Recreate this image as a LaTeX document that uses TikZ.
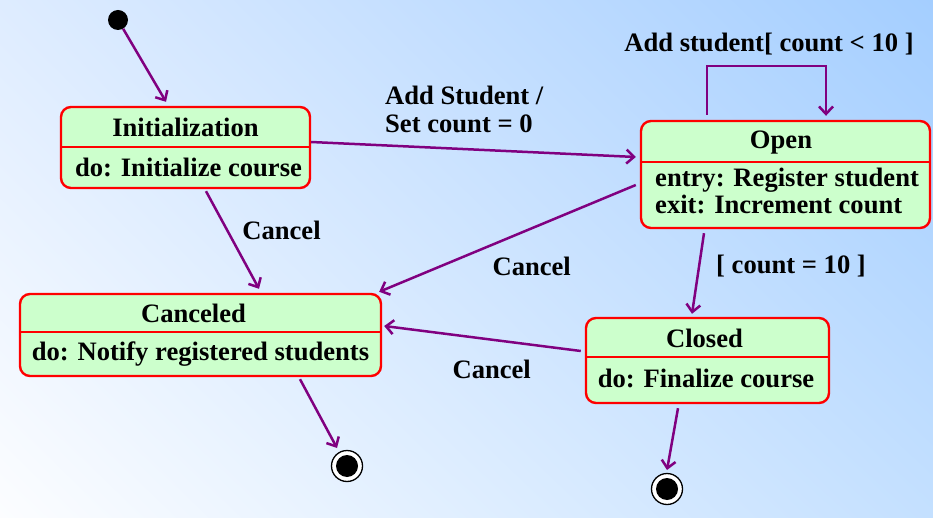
\documentclass[tikz,border=0pt]{standalone}
\usepackage{fontspec}
\setmainfont{Liberation Serif}
\usetikzlibrary{arrows.meta,shadings}
\definecolor{bgUL}{RGB}{222,236,255}
\definecolor{bgUR}{RGB}{164,206,255}
\definecolor{bgLL}{RGB}{252,253,255}
\definecolor{bgLR}{RGB}{196,224,255}
\definecolor{stfill}{RGB}{204,255,204}
\definecolor{stline}{RGB}{255,0,0}
\definecolor{trcol}{RGB}{128,0,128}
\tikzset{
  statebox/.style={draw=stline, fill=stfill, line width=2.4pt, rounded corners=10pt, inner sep=0pt},
  divline/.style={draw=stline, line width=2.4pt},
  txt/.style={font=\fontsize{26.6}{29}\selectfont\bfseries, inner sep=0pt, anchor=base},
  trans/.style={draw=trcol, line width=2.5pt, -{Straight Barb[length=7.5pt,width=14pt,line width=2.5pt]}},
  initdot/.style={circle, fill=black, minimum size=20pt, inner sep=0pt},
  finring/.style={circle, draw=black, fill=white, line width=1.3pt, minimum size=31pt, inner sep=0pt},
  findot/.style={circle, fill=black, minimum size=22pt, inner sep=0pt},
}
\begin{document}
\begin{tikzpicture}[x=1pt,y=-1pt]
\useasboundingbox (0,0) rectangle (933,518);
\shade[upper left=bgUL, upper right=bgUR, lower left=bgLL, lower right=bgLR] (0,0) rectangle (933,518);

% states
\node[statebox, minimum width=249pt, minimum height=81pt] (init) at (185.5,147.5) {};
\draw[divline] (61,147) -- (310,147);
\node[txt] (initT) at (185.5,137) {Initialization};
\node[txt] (initB) at (188.5,177) {do: Initialize course};

\node[statebox, minimum width=289pt, minimum height=107pt] (open) at (785.5,174.5) {};
\draw[divline] (641,162) -- (930,162);
\node[txt] (openT) at (781,149) {Open};
\node[txt, anchor=base west] (openB1) at (655,187) {entry: Register student};
\node[txt, anchor=base west] (openB2) at (655,214) {exit: Increment count};

\node[statebox, minimum width=361pt, minimum height=82pt] (canc) at (200.5,335) {};
\draw[divline] (20,332) -- (381,332);
\node[txt] (cancT) at (193.5,322.5) {Canceled};
\node[txt] (cancB) at (200.5,360) {do: Notify registered students};

\node[statebox, minimum width=243pt, minimum height=85pt] (closed) at (707.5,360.5) {};
\draw[divline] (586,357) -- (829,357);
\node[txt] (closedT) at (704.5,347.3) {Closed};
\node[txt] (closedB) at (706,387.3) {do: Finalize course};

% pseudo states
\node[initdot] (start) at (118,20) {};
\node[finring] (end1) at (347,466) {};
\node[findot] (end1d) at (347,466) {};
\node[finring] (end2) at (667,489) {};
\node[findot] (end2d) at (667,489) {};

% transitions
\draw[trans] (start) -- ([xshift=-19.5pt,yshift=4pt]init.north);
\draw[trans] ([yshift=5.5pt]init.east) -- ([xshift=-4pt,yshift=17.5pt]open.west);
\draw[trans] ([xshift=20.5pt,yshift=-2pt]init.south) -- ([xshift=58.5pt,yshift=4pt]canc.north);
\draw[trans] ([xshift=-4pt,yshift=-10.5pt]open.west) -- ([xshift=-3pt,yshift=1pt]canc.north east);
\draw[trans] ([xshift=-4pt,yshift=9.5pt]closed.west) -- ([xshift=2pt,yshift=9pt]canc.east);
\draw[trans] ([xshift=-81.5pt,yshift=-4pt]open.south) -- ([xshift=-15.5pt,yshift=3pt]closed.north);
\draw[trans] ([xshift=99.5pt,yshift=-2pt]canc.south) -- ([xshift=-10pt,yshift=18pt]end1.center);
\draw[trans] ([xshift=-29.5pt,yshift=-4pt]closed.south) -- ([yshift=19pt]end2.center);
\draw[trans] ([xshift=-78.5pt,yshift=5pt]open.north) -- ++(0,-49) -| ([xshift=40.5pt,yshift=4pt]open.north);

% labels
\node[txt] (l1) at (769,52) {Add student[ count < 10 ]};
\node[txt, anchor=base west] (l2a) at (385,105) {Add Student /};
\node[txt, anchor=base west] (l2b) at (385,132.7) {Set count = 0};
\node[txt] (l3) at (281.5,240) {Cancel};
\node[txt] (l4) at (531.7,276) {Cancel};
\node[txt] (l5) at (491.7,378.3) {Cancel};
\node[txt] (l6) at (791,274) {[ count = 10 ]};
\end{tikzpicture}
\end{document}
